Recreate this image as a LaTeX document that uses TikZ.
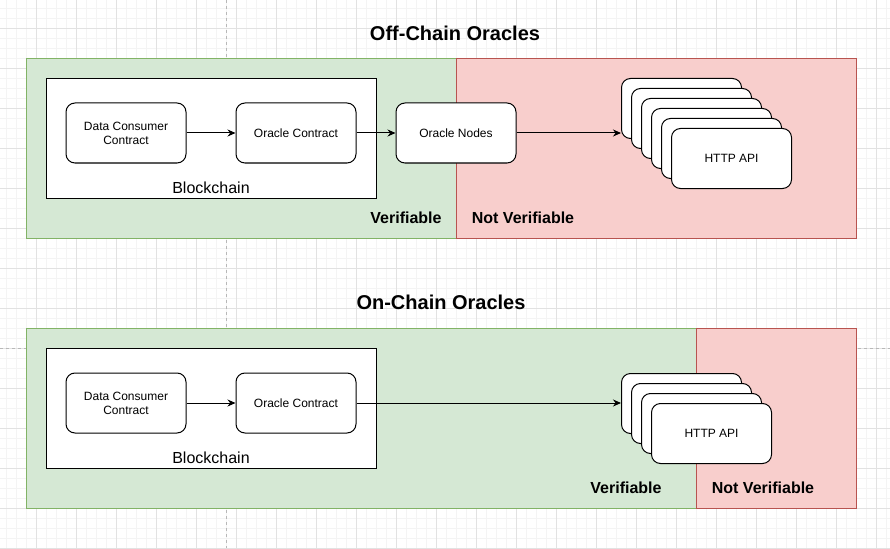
\documentclass[tikz,border=0pt]{standalone}
\usepackage{fontspec}
\setmainfont{Liberation Sans}
\usetikzlibrary{arrows.meta}
\definecolor{vfill}{HTML}{D5E8D4}
\definecolor{vline}{HTML}{82B366}
\definecolor{nfill}{HTML}{F8CECC}
\definecolor{nline}{HTML}{B85450}
\definecolor{gminor}{HTML}{F4F4F4}
\definecolor{gmajor}{HTML}{E2E2E2}
\definecolor{pbreak}{HTML}{B8B8B8}
\begin{document}
\begin{tikzpicture}[x=1pt,y=-1pt,
  minorgrid/.style={draw=gminor, line width=0.8pt},
  majorgrid/.style={draw=gmajor, line width=0.8pt},
  pagebreak/.style={draw=pbreak, dashed, line width=0.6pt},
  zone/.style={anchor=north west, inner sep=0pt, line width=1pt},
  okzone/.style={zone, draw=vline, fill=vfill},
  nozone/.style={zone, draw=nline, fill=nfill},
  chainbox/.style={anchor=north west, draw=black, fill=white, line width=1pt,
    minimum width=330pt, minimum height=120pt, inner sep=0pt},
  box/.style={draw=black, fill=white, rounded corners=9pt, line width=1pt,
    minimum width=120pt, minimum height=60pt, inner sep=0pt, align=center,
    font=\fontsize{12}{14}\selectfont, text depth=0pt, yshift=0pt},
  card/.style={box, anchor=north west},
  title/.style={font=\fontsize{20}{24}\selectfont\bfseries},
  zonelabel/.style={font=\fontsize{16}{19}\selectfont\bfseries},
  chainlabel/.style={font=\fontsize{16}{19}\selectfont},
  link/.style={draw=black, line width=1pt, -{Stealth[length=8pt,width=7pt]}}
]
\useasboundingbox (0,0) rectangle (890,548);
\fill[white] (0,0) rectangle (890,548);
% grid
\foreach \x in {6,16,...,886} \draw[minorgrid] (\x,0) -- (\x,548);
\foreach \y in {8,18,...,548} \draw[minorgrid] (0,\y) -- (890,\y);
\foreach \x in {36,76,...,876} \draw[majorgrid] (\x,0) -- (\x,548);
\foreach \y in {28,68,...,548} \draw[majorgrid] (0,\y) -- (890,\y);
\draw[pagebreak] (226,0) -- (226,548);
\draw[pagebreak] (0,348) -- (890,348);

% ---------- Off-Chain ----------
\node[title] (t1) at (455,33.5) {Off-Chain Oracles};
\node[okzone, minimum width=430pt, minimum height=180pt] (ok1) at (26,58) {};
\node[nozone, minimum width=400pt, minimum height=180pt] (no1) at (456,58) {};
\node[chainbox] (bc1) at (46,78) {};
\node[chainlabel] (bcl1) at (211,188) {Blockchain};
\node[box] (dc1) at (126,133) {Data Consumer\\Contract};
\node[box] (oc1) at (296,133) {Oracle Contract};
\node[box] (on1) at (456,133) {Oracle Nodes};
\node[card] (a1) at (621,78) {};
\node[card] (a2) at (631,88) {};
\node[card] (a3) at (641,98) {};
\node[card] (a4) at (651,108) {};
\node[card] (a5) at (661,118) {};
\node[card] (a6) at (671,128) {HTTP API};
\draw[link] (dc1) -- (oc1);
\draw[link] (oc1) -- (on1);
\draw[link] (on1.east) -- (on1.east -| a1.west);
\node[zonelabel] (v1) at (406,218) {Verifiable};
\node[zonelabel] (n1) at (523,218) {Not Verifiable};

% ---------- On-Chain ----------
\node[title] (t2) at (441,302.5) {On-Chain Oracles};
\node[okzone, minimum width=670pt, minimum height=180pt] (ok2) at (26,328) {};
\node[nozone, minimum width=160pt, minimum height=180pt] (no2) at (696,328) {};
\node[chainbox] (bc2) at (46,348) {};
\node[chainlabel] (bcl2) at (211,458) {Blockchain};
\node[box] (dc2) at (126,403) {Data Consumer\\Contract};
\node[box] (oc2) at (296,403) {Oracle Contract};
\node[card] (b1) at (621,373) {};
\node[card] (b2) at (631,383) {};
\node[card] (b3) at (641,393) {};
\node[card] (b4) at (651,403) {HTTP API};
\draw[link] (dc2) -- (oc2);
\draw[link] (oc2.east) -- (oc2.east -| b1.west);
\node[zonelabel] (v2) at (626,488) {Verifiable};
\node[zonelabel] (n2) at (763,488) {Not Verifiable};
\end{tikzpicture}
\end{document}
